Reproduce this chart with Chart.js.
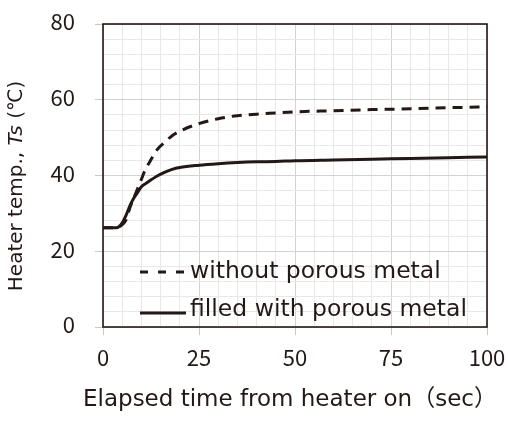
<!DOCTYPE html>
<html>
<head>
<meta charset="utf-8">
<script src="https://cdn.jsdelivr.net/npm/chart.js@4"></script>
<style>
  html, body { margin: 0; padding: 0; background: #fff; }
  #wrap { width: 508px; height: 428px; }
</style>
</head>
<body>
<div id="wrap"><canvas id="chart" width="508" height="428"></canvas></div>
<script>
let timeSec = [0, 2, 3.5, 5, 6, 7, 8, 9, 10, 11, 12, 14, 16, 18, 20, 25, 30, 35, 40, 45, 50, 60, 70, 80, 90, 100];
let withoutPorous = [26.2, 26.2, 26.2, 27, 28.3, 31.5, 34, 36.5, 39, 41.5, 43.3, 46.7, 48.7, 50.5, 51.7, 53.7, 55, 55.8, 56.2, 56.5, 56.8, 57.1, 57.4, 57.6, 57.9, 58.1];
let filledPorous = [26.2, 26.2, 26.2, 27.5, 29.5, 32, 34, 35.5, 37, 37.8, 38.5, 39.8, 40.8, 41.6, 42.1, 42.7, 43.1, 43.4, 43.6, 43.7, 43.9, 44.1, 44.3, 44.5, 44.7, 44.9];
let seriesNames = ["without porous metal", "filled with porous metal"];
let xTickLabels = [0, 25, 50, 75, 100];
let yTickLabels = [0, 20, 40, 60, 80];
let xTitle = "Elapsed time from heater on（sec）";

const ink = "#231815";
const tickFont = "'Noto Sans CJK JP', 'Noto Sans', sans-serif";
const textFont = "'DejaVu Sans', 'Noto Sans CJK JP', sans-serif";

function points(ys) {
    return timeSec.map((t, i) => ({ x: t, y: ys[i] }));
}

// keep label overhang from moving the plot area
function noPad(s) {
    s.paddingTop = 0;
    s.paddingBottom = 0;
    s.paddingLeft = 0;
    s.paddingRight = 0;
}

// frame, axis titles (italic Ts), legend inside plot
const extras = {
    id: "extras",
    afterDraw(chart) {
        let c = chart.ctx;
        let a = chart.chartArea;
        c.save();
        c.strokeStyle = ink;
        c.lineWidth = 1.6;
        c.strokeRect(a.left, a.top, a.right - a.left, a.bottom - a.top);

        c.fillStyle = ink;
        c.textBaseline = "middle";
        c.textAlign = "center";
        c.font = "23px " + textFont;
        c.fillText(xTitle, 290, 400);

        // y title
        c.textAlign = "left";
        c.translate(17, 186);
        c.rotate(-Math.PI / 2);
        let parts = [
            ["Heater temp., ", "20px " + textFont],
            ["Ts", "italic 20px " + textFont],
            [" (℃)", "20px " + textFont]
        ];
        let total = 0;
        parts.forEach(p => { c.font = p[1]; total += c.measureText(p[0]).width; });
        let x = -total / 2;
        parts.forEach(p => {
            c.font = p[1];
            c.fillText(p[0], x, 0);
            x += c.measureText(p[0]).width;
        });
        c.restore();

        // legend
        c.save();
        c.fillStyle = ink;
        c.strokeStyle = ink;
        c.font = "23.5px " + textFont;
        c.textBaseline = "middle";
        let textY = [272, 310];
        let lineY = [272, 313];
        chart.data.datasets.forEach((ds, i) => {
            c.lineWidth = 3;
            c.setLineDash(i === 0 ? [8, 10] : []);
            c.beginPath();
            c.moveTo(140, lineY[i]);
            c.lineTo(186, lineY[i]);
            c.stroke();
            c.setLineDash([]);
            c.fillText(ds.label, 190, textY[i]);
        });
        c.restore();
    }
};

new Chart(document.getElementById("chart"), {
    type: "line",
    data: {
        datasets: [
            {
                label: seriesNames[0],
                data: points(withoutPorous),
                borderColor: ink,
                borderWidth: 3,
                borderDash: [10, 7],
                pointRadius: 0,
                cubicInterpolationMode: "monotone",
                fill: false
            },
            {
                label: seriesNames[1],
                data: points(filledPorous),
                borderColor: ink,
                borderWidth: 3,
                pointRadius: 0,
                cubicInterpolationMode: "monotone",
                fill: false
            }
        ]
    },
    options: {
        responsive: false,
        animation: false,
        layout: { padding: { top: 24, right: 21, left: 0, bottom: 0 } },
        plugins: {
            legend: { display: false },
            tooltip: { enabled: false }
        },
        scales: {
            x: {
                type: "linear",
                min: 0,
                max: 100,
                afterFit: s => { s.height = 101; noPad(s); },
                border: { display: false },
                grid: {
                    color: ctx => ctx.tick && ctx.tick.value % 25 === 0 ? "#d3d3d3" : "#e8e8e8",
                    tickColor: ctx => ctx.tick && ctx.tick.value % 25 === 0 ? "#c8c8c8" : "rgba(0,0,0,0)",
                    tickLength: 8,
                    lineWidth: 1
                },
                ticks: {
                    stepSize: 5,
                    autoSkip: false,
                    maxRotation: 0,
                    padding: 9,
                    color: ink,
                    font: { family: tickFont, size: 22 },
                    callback: v => xTickLabels.includes(v) ? String(v) : ""
                }
            },
            y: {
                min: 0,
                max: 80,
                afterFit: s => { s.width = 103; noPad(s); },
                border: { display: false },
                grid: {
                    color: ctx => ctx.tick && ctx.tick.value % 20 === 0 ? "#d3d3d3" : "#e8e8e8",
                    tickColor: ctx => ctx.tick && ctx.tick.value % 20 === 0 ? "#c8c8c8" : "rgba(0,0,0,0)",
                    tickLength: 8,
                    lineWidth: 1
                },
                ticks: {
                    stepSize: 4,
                    autoSkip: false,
                    padding: 20,
                    labelOffset: -2,
                    color: ink,
                    font: { family: tickFont, size: 22 },
                    callback: v => yTickLabels.includes(v) ? String(v) : ""
                }
            }
        }
    },
    plugins: [extras]
});
</script>
</body>
</html>
